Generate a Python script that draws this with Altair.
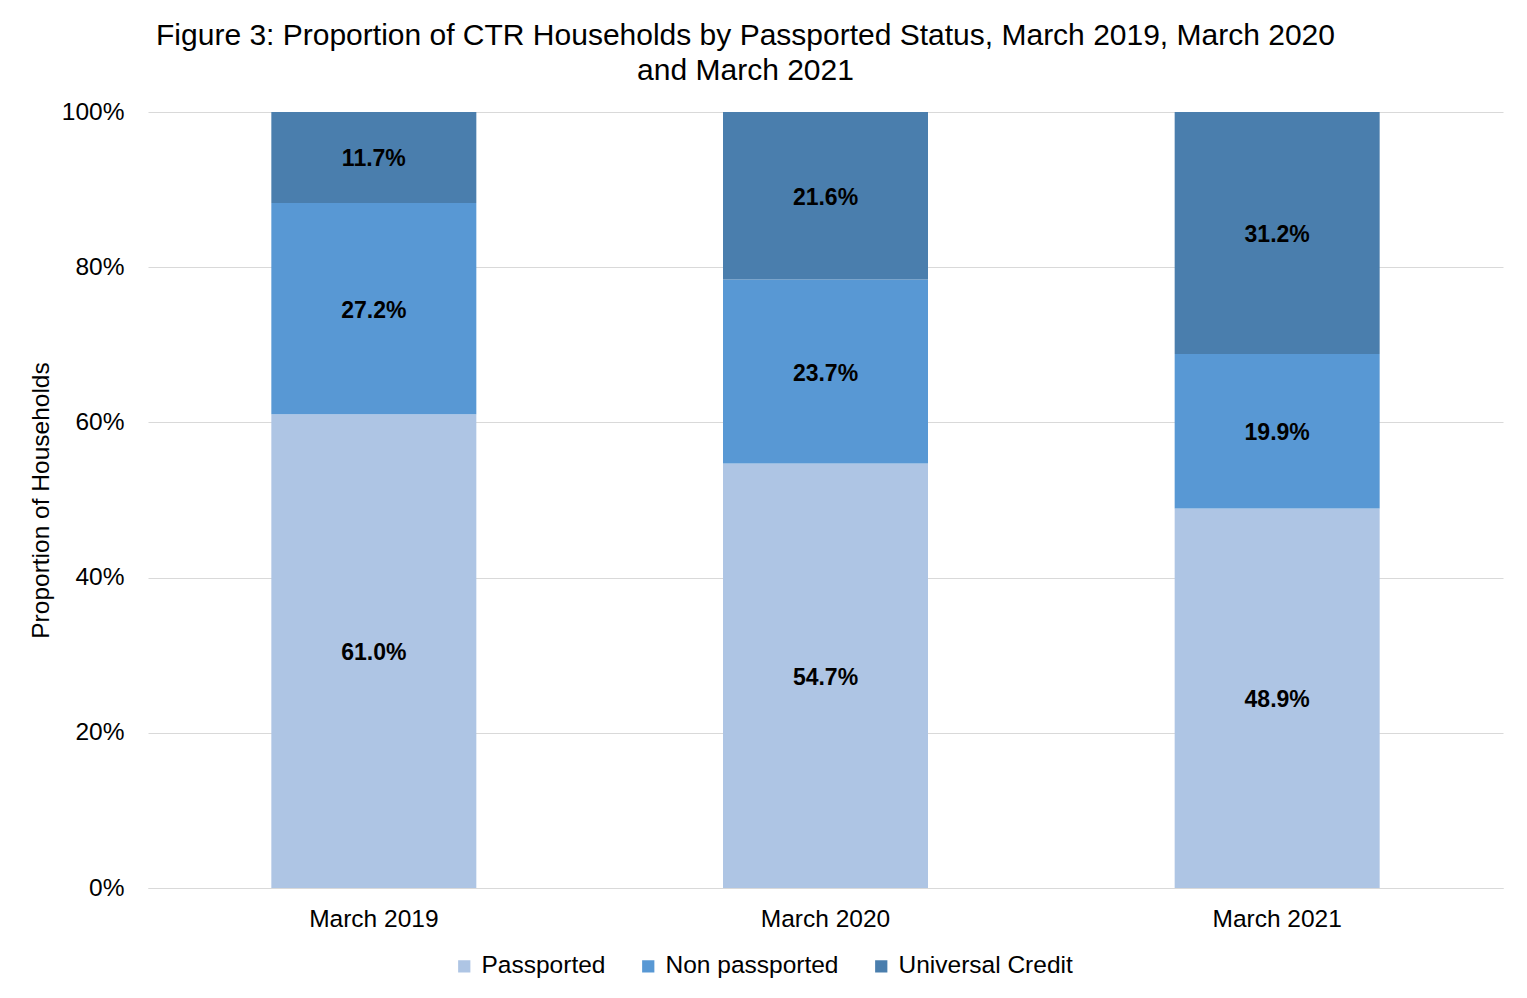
import altair as alt
import pandas as pd

periods = ["March 2019", "March 2020", "March 2021"]
categories = ["Passported", "Non passported", "Universal Credit"]
passported = [61.0, 54.7, 48.9]
non_passported = [27.2, 23.7, 19.9]
universal_credit = [11.7, 21.6, 31.2]
colors = ["#AEC5E4", "#5898D4", "#4A7EAD"]

rows = []
for i, p in enumerate(periods):
    for j, (c, vals) in enumerate(zip(categories, [passported, non_passported, universal_credit])):
        rows.append({"period": p, "category": c, "value": vals[i], "order": j})
df = pd.DataFrame(rows)

FONT = "Liberation Sans"

base = alt.Chart(df).transform_stack(
    stack="value", groupby=["period"], as_=["y0", "y1"],
    sort=[alt.SortField("order", order="ascending")], offset="normalize"
)

bars = base.mark_bar(size=205).encode(
    x=alt.X("period:N", sort=periods, title=None,
            scale=alt.Scale(paddingInner=0.55, paddingOuter=0.275),
            axis=alt.Axis(labelAngle=0, labelFontSize=24.5, labelFont=FONT, labelColor="#000",
                          domainColor="#d9d9d9", ticks=False, labelPadding=19)),
    y=alt.Y("y0:Q", title="Proportion of Households",
            scale=alt.Scale(domain=[0, 1]),
            axis=alt.Axis(format=".0%", values=[0, 0.2, 0.4, 0.6, 0.8, 1.0],
                          labelFontSize=24.5, labelFont=FONT, labelColor="#000",
                          gridColor="#d9d9d9", domain=False, ticks=False, labelPadding=24,
                          titleFontSize=24.5, titleFont=FONT, titleFontWeight="normal",
                          titleColor="#000", titlePadding=8)),
    y2="y1:Q",
    color=alt.Color("category:N", sort=categories,
                    scale=alt.Scale(domain=categories, range=colors),
                    legend=alt.Legend(title=None, orient="none", direction="horizontal",
                                      legendX=304, legendY=842, symbolType="square",
                                      symbolSize=150, labelFontSize=24.5, labelFont=FONT,
                                      labelColor="#000", columnPadding=30, labelOffset=5,
                                      labelLimit=0)),
    order=alt.Order("order:Q"),
)

labels = base.transform_calculate(
    mid="(datum.y0 + datum.y1) / 2",
    label="format(datum.value, '.1f') + '%'"
).mark_text(fontSize=23, fontWeight="bold", font=FONT, color="#000", dy=2).encode(
    x=alt.X("period:N", sort=periods),
    y=alt.Y("mid:Q"),
    text="label:N",
)

chart = (bars + labels).properties(
    width=1355, height=776,
    title=alt.TitleParams(
        ["Figure 3: Proportion of CTR Households by Passported Status, March 2019, March 2020",
         "and March 2021"],
        fontSize=30, font=FONT, fontWeight="normal", color="#000", anchor="middle",
        dx=-80, offset=13, lineHeight=35),
    autosize=alt.AutoSizeParams(type="none"),
    padding={"left": 140, "top": 104, "right": 16, "bottom": 100},
).configure_view(stroke=None)

chart.save("out.html", embed_options={"renderer": "svg", "actions": False})
